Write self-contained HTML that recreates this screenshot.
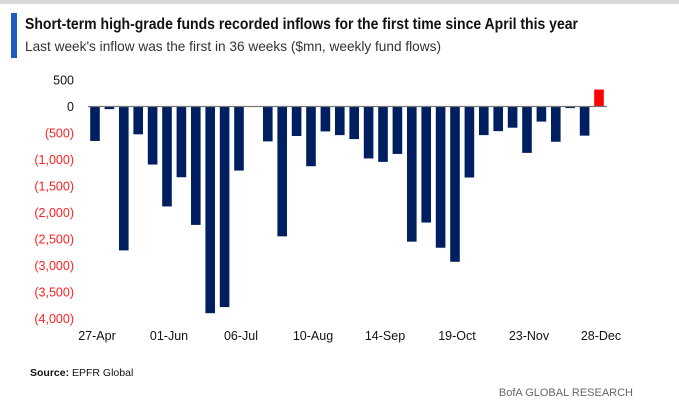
<!DOCTYPE html>
<html><head><meta charset="utf-8"><style>
body{margin:0;background:#fff;font-family:"Liberation Sans",sans-serif;}
svg{display:block}
</style></head><body>
<svg width="679" height="400">
<rect x="0" y="0" width="679" height="4" fill="#d8d8d8"/>
<rect x="11" y="13" width="6" height="45" fill="#1f5cc8"/>
<text x="25" y="29" font-size="16" font-weight="bold" fill="#111" textLength="553" lengthAdjust="spacingAndGlyphs">Short-term high-grade funds recorded inflows for the first time since April this year</text>
<text x="25" y="51" font-size="14" fill="#333" textLength="416" lengthAdjust="spacingAndGlyphs">Last week's inflow was the first in 36 weeks ($mn, weekly fund flows)</text>
<g id="plot"></g>
<text x="30" y="376" font-size="10.5" fill="#111"><tspan font-weight="bold">Source:</tspan> EPFR Global</text>
<text x="633" y="396" font-size="11" fill="#666" text-anchor="end">BofA GLOBAL RESEARCH</text>
</svg>
<script>
const weeks = ["27-Apr","","","","","01-Jun","","","","","06-Jul","","","","","10-Aug","","","","","14-Sep","","","","","19-Oct","","","","","23-Nov","","","","","28-Dec"];
const flows = [-650,-50,-2715,-525,-1095,-1886,-1335,-2234,-3900,-3785,-1209,0,-658,-2450,-557,-1127,-470,-540,-615,-980,-1045,-895,-2550,-2190,-2665,-2930,-1340,-540,-465,-400,-875,-285,-665,-30,-550,320];
const yTicks = [500,0,-500,-1000,-1500,-2000,-2500,-3000,-3500,-4000];
const yTickLabels = ["500","0","(500)","(1,000)","(1,500)","(2,000)","(2,500)","(3,000)","(3,500)","(4,000)"];
const NS="http://www.w3.org/2000/svg";
const g=document.getElementById('plot');
const y0=106.5, pxPer=53/1000;
function yScale(v){return y0 - v*pxPer;}
function xScale(i){return 95 + i*14.4;}
const bw=9.6;
yTicks.forEach((t,i)=>{
  const tx=document.createElementNS(NS,'text');
  tx.setAttribute('x',74);tx.setAttribute('y',yScale(t)+4.5);
  tx.setAttribute('text-anchor','end');tx.setAttribute('font-size','12.5');
  tx.setAttribute('fill',t<0?'#ff2020':'#111');
  tx.textContent=yTickLabels[i];
  
  
  g.appendChild(tx);
});
flows.forEach((v,i)=>{
  const r=document.createElementNS(NS,'rect');
  const yt=yScale(Math.max(v,0)), yb=yScale(Math.min(v,0));
  r.setAttribute('x',xScale(i)-bw/2);r.setAttribute('y',yt);
  r.setAttribute('width',bw);r.setAttribute('height',Math.max(yb-yt,0));
  r.setAttribute('fill',v>0?'#ff0000':'#001f60');
  
  
  g.appendChild(r);
});
const ax=document.createElementNS(NS,'line');
ax.setAttribute('x1',88);ax.setAttribute('x2',607);ax.setAttribute('y1',y0);ax.setAttribute('y2',y0);
ax.setAttribute('stroke','#777');ax.setAttribute('stroke-width','1.3');


g.appendChild(ax);
weeks.forEach((w,i)=>{
  if(!w)return;
  const tx=document.createElementNS(NS,'text');
  tx.setAttribute('x',xScale(i)+2);tx.setAttribute('y',340);
  tx.setAttribute('text-anchor','middle');tx.setAttribute('font-size','12.5');tx.setAttribute('fill','#111');
  tx.textContent=w;
  
  
  g.appendChild(tx);
});
</script>
</body></html>
